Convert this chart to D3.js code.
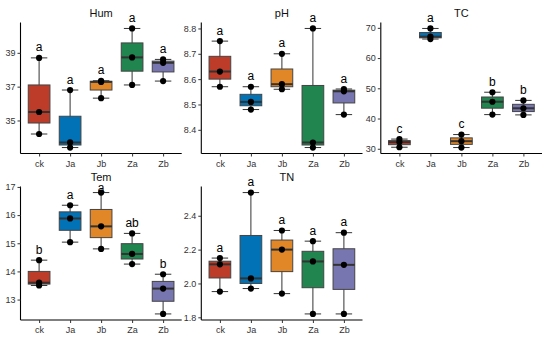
<!DOCTYPE html>
<html>
<head>
<meta charset="utf-8">
<script src="https://cdn.jsdelivr.net/npm/d3@7"></script>
<style>
html,body{margin:0;padding:0;background:#fff;}
svg{display:block;font-family:"Liberation Sans",Arial,sans-serif;}
</style>
</head>
<body>
<svg id="chart" width="550" height="341"></svg>
<script>
// ---- data ----
const categories = ["ck", "Ja", "Jb", "Za", "Zb"];
const colors = ["#BC3C29", "#0072B5", "#E18727", "#20854E", "#7876B1"];

const humValues = [[38.7, 35.5, 34.2], [36.8, 33.7, 33.4], [37.35, 37.28, 36.32], [40.44, 38.73, 37.1], [38.61, 38.41, 37.33]];
const humLetters = ["a", "a", "a", "a", "a"];
const humTicks = [35, 37, 39];

const phValues = [[8.75, 8.63, 8.57], [8.57, 8.51, 8.48], [8.70, 8.58, 8.56], [8.80, 8.35, 8.33], [8.561, 8.552, 8.46]];
const phLetters = ["a", "a", "a", "a", "a"];
const phTicks = [8.4, 8.5, 8.6, 8.7, 8.8];

const tcValues = [[33.2, 32.2, 30.5], [69.8, 67.1, 66.3], [34.7, 32.5, 30.4], [48.7, 45.55, 41.3], [46.0, 43.4, 41.2]];
const tcLetters = ["c", "a", "c", "b", "b"];
const tcTicks = [30, 40, 50, 60, 70];

const temValues = [[14.4, 13.6, 13.5], [16.35, 15.88, 15.04], [16.8, 15.6, 14.8], [15.35, 14.62, 14.26], [13.9, 13.39, 12.49]];
const temLetters = ["b", "a", "a", "ab", "b"];
const temTicks = [13, 14, 15, 16, 17];

const tnValues = [[2.15, 2.113, 1.952], [2.537, 2.03, 1.97], [2.313, 2.2, 1.94], [2.25, 2.13, 1.82], [2.30, 2.11, 1.82]];
const tnLetters = ["a", "a", "a", "a", "a"];
const tnTicks = [1.8, 2.0, 2.2, 2.4];

const panels = [
  {title: "Hum", values: humValues, letters: humLetters, ticks: humTicks, fmt: d3.format("d"), col: 0, row: 0},
  {title: "pH", values: phValues, letters: phLetters, ticks: phTicks, fmt: d3.format(".1f"), col: 1, row: 0},
  {title: "TC", values: tcValues, letters: tcLetters, ticks: tcTicks, fmt: d3.format("d"), col: 2, row: 0},
  {title: "Tem", values: temValues, letters: temLetters, ticks: temTicks, fmt: d3.format("d"), col: 0, row: 1},
  {title: "TN", values: tnValues, letters: tnLetters, ticks: tnTicks, fmt: d3.format(".1f"), col: 1, row: 1}
];

// ---- layout ----
const colLeft = [20.5, 201.3, 380.8];
const panelW = 161.2;
const rowTop = [22.5, 186.5];
const rowBottom = [153.5, 320];
const titleBase = [17, 180.5];
const titleShift = {TN: 5};

const svg = d3.select("#chart");

panels.forEach(p => {
  const x0 = colLeft[p.col], x1 = x0 + panelW;
  const y0 = rowTop[p.row], y1 = rowBottom[p.row];
  const all = p.values.flat();
  const ext = d3.extent(all);
  const pad = (ext[1] - ext[0]) * 0.05;
  const y = d3.scaleLinear().domain([ext[0] - pad, ext[1] + pad]).range([y1, y0]);
  const xb = d3.scalePoint().domain(categories).range([x0, x1]).padding(0.6);
  const step = xb.step();

  const g = svg.append("g");

  // axes
  const yAxis = d3.axisLeft(y).tickValues(p.ticks).tickFormat(p.fmt).tickSize(3).tickPadding(2);
  const ga = g.append("g").attr("transform", `translate(${x0},0)`).call(yAxis);
  const xAxis = d3.axisBottom(xb).tickSize(3).tickPadding(4);
  const gx = g.append("g").attr("transform", `translate(0,${y1})`).call(xAxis);
  [ga, gx].forEach(a => {
    a.select(".domain").attr("stroke", "#000").attr("stroke-width", 1.1);
    a.selectAll(".tick line").attr("stroke", "#333");
    a.selectAll(".tick text").attr("fill", "#333").style("font-size", "9px").style("font-family", "Liberation Sans, Arial, sans-serif");
  });
  ga.select(".domain").attr("d", `M0,${y1}V${y0}`);
  gx.select(".domain").attr("d", `M${x0},0H${x1}`);

  // title
  const tx = (x0 + x1) / 2 + (titleShift[p.title] || 0);
  const tb = titleBase[p.row];
  g.append("text").attr("x", tx).attr("y", tb)
    .attr("text-anchor", "middle").style("font-size", "11px").attr("fill", "#111").text(p.title);

  categories.forEach((c, i) => {
    const v = p.values[i].slice().sort(d3.ascending);
    const q1 = d3.quantile(v, 0.25), med = d3.quantile(v, 0.5), q3 = d3.quantile(v, 0.75);
    const mn = v[0], mx = v[v.length - 1];
    const cx = xb(c);
    const bw = step * 0.7, cw = step * 0.53;
    // whisker
    g.append("line").attr("x1", cx).attr("x2", cx).attr("y1", y(mn)).attr("y2", y(mx))
      .attr("stroke", "#333").attr("stroke-width", 1);
    [mn, mx].forEach(val => g.append("line").attr("x1", cx - cw / 2).attr("x2", cx + cw / 2)
      .attr("y1", y(val)).attr("y2", y(val)).attr("stroke", "#333").attr("stroke-width", 1));
    // box
    g.append("rect").attr("x", cx - bw / 2).attr("width", bw).attr("y", y(q3)).attr("height", Math.max(0.5, y(q1) - y(q3)))
      .attr("fill", colors[i]).attr("stroke", "#444").attr("stroke-width", 1);
    g.append("line").attr("x1", cx - bw / 2).attr("x2", cx + bw / 2).attr("y1", y(med)).attr("y2", y(med))
      .attr("stroke", "#333").attr("stroke-width", 2);
    // points
    v.forEach(val => g.append("circle").attr("cx", cx).attr("cy", y(val)).attr("r", 3.1).attr("fill", "#000"));
    // letters (kept clear of the panel title when directly beneath it)
    let ly = y(mx) - 6.5;
    if (Math.abs(cx - tx) < 16 && ly < tb + 11) ly = tb + 11;
    g.append("text").attr("x", cx).attr("y", ly).attr("text-anchor", "middle")
      .style("font-size", "12px").attr("fill", "#000").text(p.letters[i]);
  });
});
</script>
</body>
</html>
